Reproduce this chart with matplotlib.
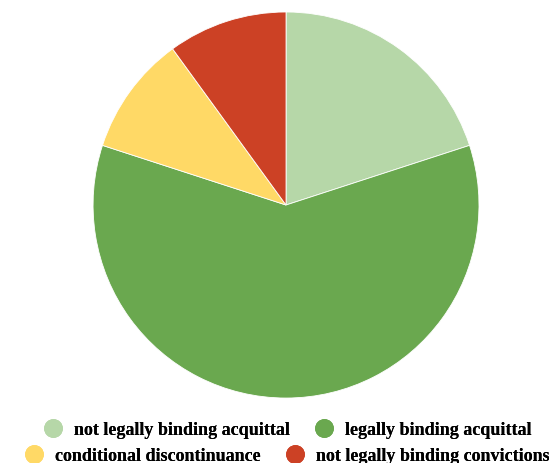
import matplotlib
matplotlib.use('Agg')
import matplotlib.pyplot as plt
from matplotlib.lines import Line2D

labels = ['not legally binding acquittal', 'legally binding acquittal',
          'conditional discontinuance', 'not legally binding convictions']
values = [20, 60, 10, 10]
colors = ['#b6d7a8', '#6aa84f', '#ffd966', '#cc4125']

fig = plt.figure(figsize=(5.49, 4.64), dpi=100)
ax = fig.add_axes([0.1695, 0.140, 0.703, 0.832])
ax.pie(values, colors=colors, startangle=90, counterclock=False,
       wedgeprops=dict(edgecolor='white', linewidth=0.6))
ax.set_xlim(-1, 1)
ax.set_ylim(-1, 1)
ax.set_aspect('auto')
ax.axis('off')

font = dict(family='Liberation Serif', weight='bold', size=13)

def handle(c):
    return Line2D([], [], marker='o', linestyle='none', markersize=12.5,
                  markerfacecolor=c, markeredgecolor=c)

for row, ypix in [(0, 431), (1, 457)]:
    idx = [2 * row, 2 * row + 1]
    leg = fig.legend([handle(colors[i]) for i in idx], [labels[i] for i in idx],
                     loc='center', bbox_to_anchor=(0.522, 1 - ypix / 464), ncol=2,
                     frameon=False, prop=font, handletextpad=0.55,
                     columnspacing=1.3, handlelength=1.2,
                     borderpad=0, borderaxespad=0)
    fig.add_artist(leg)

fig.savefig('out.png', dpi=100)
